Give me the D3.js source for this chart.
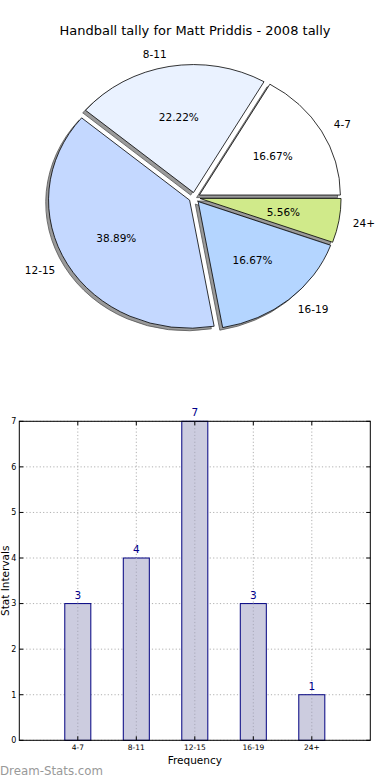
<!DOCTYPE html>
<html>
<head>
<meta charset="utf-8">
<script src="https://cdn.jsdelivr.net/npm/d3@7"></script>
<style>
html,body{margin:0;padding:0;background:#fff;}
svg{display:block;font-family:"DejaVu Sans",sans-serif;}
</style>
</head>
<body>
<svg id="c" width="390" height="780"></svg>
<script>
const categories = ["4-7", "8-11", "12-15", "16-19", "24+"];
const values = [3, 4, 7, 3, 1];
const pieColors = ["#ffffff", "#eaf2ff", "#c4d8ff", "#b4d5ff", "#d0ea8a"];
const yTicks = [0, 1, 2, 3, 4, 5, 6, 7];
const title = "Handball tally for Matt Priddis - 2008 tally";

const svg = d3.select("#c");

// ---- Title ----
svg.append("text").attr("x", 195).attr("y", 35).attr("text-anchor", "middle")
  .attr("font-size", 13).attr("fill", "#000").text(title);

// ---- Pie (elliptical, as in the reference) ----
const cx = 194.5, cy = 197.6, rx = 141, ry = 128, explode = 0.04;
const total = d3.sum(values);
const pie = d3.pie().sort(null).value(d => d)
  .startAngle(Math.PI / 2).endAngle(Math.PI / 2 - 2 * Math.PI);
const arcs = pie(values);
const arcGen = d3.arc().innerRadius(0).outerRadius(1);

function mid(d) { return (d.startAngle + d.endAngle) / 2; }
function pt(a, k) { return [k * rx * Math.sin(a), -k * ry * Math.cos(a)]; }

const pieG = svg.append("g");
arcs.forEach((d, i) => {
  const m = mid(d);
  const off = pt(m, explode);
  d.ox = cx + off[0]; d.oy = cy + off[1];
  d.path = arcGen({startAngle: Math.min(d.startAngle, d.endAngle), endAngle: Math.max(d.startAngle, d.endAngle)});
});
arcs.forEach(d => {
  pieG.append("path").attr("d", d.path)
    .attr("transform", `translate(${d.ox - 0.02 * rx},${d.oy + 0.02 * ry}) scale(${rx},${ry})`)
    .attr("fill", "#9a9a9a").attr("stroke", "#555").attr("stroke-width", 0.8)
    .attr("vector-effect", "non-scaling-stroke");
});
arcs.forEach((d, i) => {
  pieG.append("path").attr("d", d.path)
    .attr("transform", `translate(${d.ox},${d.oy}) scale(${rx},${ry})`)
    .attr("fill", pieColors[i]).attr("stroke", "#000").attr("stroke-width", 0.8)
    .attr("vector-effect", "non-scaling-stroke");
});
arcs.forEach((d, i) => {
  const m = mid(d);
  const lp = pt(m, 1.1);
  pieG.append("text").attr("x", d.ox + lp[0]).attr("y", d.oy + lp[1]).attr("dy", "0.35em")
    .attr("text-anchor", Math.sin(m) >= 0 ? "start" : "end")
    .attr("font-size", 10.5).text(categories[i]);
  const pp = pt(m, 0.6);
  pieG.append("text").attr("x", d.ox + pp[0]).attr("y", d.oy + pp[1]).attr("dy", "0.35em")
    .attr("text-anchor", "middle").attr("font-size", 10.5)
    .text((values[i] / total * 100).toFixed(2) + "%");
});

// ---- Bar chart ----
const pL = 19.3, pR = 370.3, pT = 421.3, pB = 740.3;
const x = d3.scaleLinear().domain([0, categories.length + 1]).range([pL, pR]);
const y = d3.scaleLinear().domain([0, 7]).range([pB, pT]);
const barW = 0.445;
const bg = svg.append("g");

const dash = "1.2,2.2";
yTicks.forEach(t => {
  bg.append("line").attr("x1", pL).attr("x2", pR).attr("y1", y(t)).attr("y2", y(t))
    .attr("stroke", "#b0b0b0").attr("stroke-width", 1).attr("stroke-dasharray", dash);
});
categories.forEach((c, i) => {
  bg.append("line").attr("x1", x(i + 1)).attr("x2", x(i + 1)).attr("y1", pT).attr("y2", pB)
    .attr("stroke", "#b0b0b0").attr("stroke-width", 1).attr("stroke-dasharray", dash);
});

bg.selectAll("rect.bar").data(values).enter().append("rect")
  .attr("x", (d, i) => x(i + 1 - barW / 2))
  .attr("width", (d, i) => x(i + 1 + barW / 2) - x(i + 1 - barW / 2))
  .attr("y", d => y(d)).attr("height", d => y(0) - y(d))
  .attr("fill", "#ccccdf")
  .attr("stroke", "#000080").attr("stroke-width", 1);
categories.forEach((c, i) => {
  bg.append("line").attr("x1", x(i + 1)).attr("x2", x(i + 1)).attr("y1", y(values[i])).attr("y2", pB)
    .attr("stroke", "#a8a8b8").attr("stroke-width", 1).attr("stroke-dasharray", dash);
});

bg.selectAll("text.val").data(values).enter().append("text")
  .attr("x", (d, i) => x(i + 1)).attr("y", d => y(d) - 5)
  .attr("text-anchor", "middle").attr("font-size", 10.5).attr("fill", "#00008b")
  .text(d => d);

bg.append("rect").attr("x", pL).attr("y", pT).attr("width", pR - pL).attr("height", pB - pT)
  .attr("fill", "none").attr("stroke", "#000").attr("stroke-width", 1);

yTicks.forEach(t => {
  bg.append("line").attr("x1", pL).attr("x2", pL + 4).attr("y1", y(t)).attr("y2", y(t)).attr("stroke", "#000");
  bg.append("line").attr("x1", pR - 4).attr("x2", pR).attr("y1", y(t)).attr("y2", y(t)).attr("stroke", "#000");
  bg.append("text").attr("x", pL - 3).attr("y", y(t)).attr("dy", "0.35em").attr("text-anchor", "end")
    .attr("font-size", 8).text(t);
});
categories.forEach((c, i) => {
  bg.append("line").attr("x1", x(i + 1)).attr("x2", x(i + 1)).attr("y1", pB).attr("y2", pB - 4).attr("stroke", "#000");
  bg.append("line").attr("x1", x(i + 1)).attr("x2", x(i + 1)).attr("y1", pT).attr("y2", pT + 4).attr("stroke", "#000");
  bg.append("text").attr("x", x(i + 1)).attr("y", pB + 10).attr("text-anchor", "middle")
    .attr("font-size", 7.5).text(c);
});

bg.append("text").attr("x", (pL + pR) / 2).attr("y", 764).attr("text-anchor", "middle")
  .attr("font-size", 10.5).text("Frequency");
bg.append("text").attr("transform", `translate(8.5,${(pT + pB) / 2}) rotate(-90)`)
  .attr("text-anchor", "middle").attr("font-size", 10.5).text("Stat Intervals");

svg.append("text").attr("x", 0).attr("y", 775).attr("font-size", 11.8)
  .attr("fill", "#999").text("Dream-Stats.com");
</script>
</body>
</html>
